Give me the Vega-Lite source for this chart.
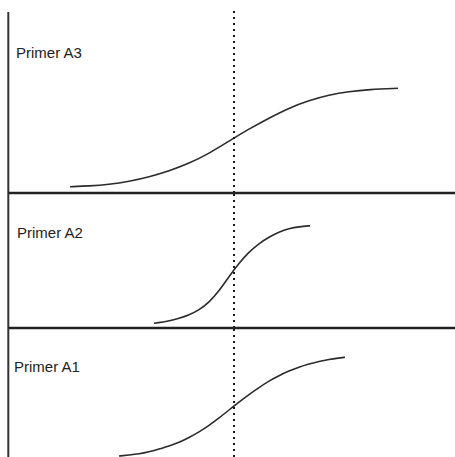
{
  "$schema": "https://vega.github.io/schema/vega-lite/v6.json",
  "description": "Amplification curves for three primers, with a common cycle marker.",
  "padding": 0,
  "spacing": 0,
  "bounds": "flush",
  "config": {
    "view": {"stroke": null},
    "text": {"font": "Liberation Sans", "fontSize": 15, "color": "#222222", "align": "left", "baseline": "alphabetic"}
  },
  "datasets": {
    "curves": [
      {"primer": "Primer A3", "cycle": 6.1, "fluor": 0.063},
      {"primer": "Primer A3", "cycle": 8, "fluor": 0.07},
      {"primer": "Primer A3", "cycle": 10, "fluor": 0.085},
      {"primer": "Primer A3", "cycle": 12, "fluor": 0.115},
      {"primer": "Primer A3", "cycle": 14, "fluor": 0.16},
      {"primer": "Primer A3", "cycle": 16, "fluor": 0.22},
      {"primer": "Primer A3", "cycle": 18, "fluor": 0.295},
      {"primer": "Primer A3", "cycle": 20, "fluor": 0.395},
      {"primer": "Primer A3", "cycle": 22, "fluor": 0.52},
      {"primer": "Primer A3", "cycle": 24, "fluor": 0.64},
      {"primer": "Primer A3", "cycle": 26, "fluor": 0.75},
      {"primer": "Primer A3", "cycle": 28, "fluor": 0.85},
      {"primer": "Primer A3", "cycle": 30, "fluor": 0.925},
      {"primer": "Primer A3", "cycle": 32, "fluor": 0.98},
      {"primer": "Primer A3", "cycle": 34, "fluor": 1.015},
      {"primer": "Primer A3", "cycle": 36, "fluor": 1.035},
      {"primer": "Primer A3", "cycle": 38.9, "fluor": 1.047},

      {"primer": "Primer A2", "cycle": 14.5, "fluor": 0.047},
      {"primer": "Primer A2", "cycle": 16, "fluor": 0.07},
      {"primer": "Primer A2", "cycle": 17, "fluor": 0.095},
      {"primer": "Primer A2", "cycle": 18, "fluor": 0.13},
      {"primer": "Primer A2", "cycle": 19, "fluor": 0.18},
      {"primer": "Primer A2", "cycle": 20, "fluor": 0.255},
      {"primer": "Primer A2", "cycle": 21, "fluor": 0.37},
      {"primer": "Primer A2", "cycle": 22, "fluor": 0.515},
      {"primer": "Primer A2", "cycle": 23, "fluor": 0.65},
      {"primer": "Primer A2", "cycle": 24, "fluor": 0.76},
      {"primer": "Primer A2", "cycle": 25, "fluor": 0.845},
      {"primer": "Primer A2", "cycle": 26, "fluor": 0.91},
      {"primer": "Primer A2", "cycle": 27, "fluor": 0.96},
      {"primer": "Primer A2", "cycle": 28, "fluor": 0.995},
      {"primer": "Primer A2", "cycle": 29, "fluor": 1.013},
      {"primer": "Primer A2", "cycle": 30.1, "fluor": 1.023},

      {"primer": "Primer A1", "cycle": 11, "fluor": 0.01},
      {"primer": "Primer A1", "cycle": 12, "fluor": 0.02},
      {"primer": "Primer A1", "cycle": 13, "fluor": 0.03},
      {"primer": "Primer A1", "cycle": 14, "fluor": 0.05},
      {"primer": "Primer A1", "cycle": 15, "fluor": 0.08},
      {"primer": "Primer A1", "cycle": 16, "fluor": 0.11},
      {"primer": "Primer A1", "cycle": 17, "fluor": 0.145},
      {"primer": "Primer A1", "cycle": 18, "fluor": 0.195},
      {"primer": "Primer A1", "cycle": 19, "fluor": 0.25},
      {"primer": "Primer A1", "cycle": 20, "fluor": 0.315},
      {"primer": "Primer A1", "cycle": 21, "fluor": 0.39},
      {"primer": "Primer A1", "cycle": 22, "fluor": 0.47},
      {"primer": "Primer A1", "cycle": 23, "fluor": 0.55},
      {"primer": "Primer A1", "cycle": 24, "fluor": 0.625},
      {"primer": "Primer A1", "cycle": 25, "fluor": 0.695},
      {"primer": "Primer A1", "cycle": 26, "fluor": 0.76},
      {"primer": "Primer A1", "cycle": 27, "fluor": 0.815},
      {"primer": "Primer A1", "cycle": 28, "fluor": 0.86},
      {"primer": "Primer A1", "cycle": 29, "fluor": 0.9},
      {"primer": "Primer A1", "cycle": 30, "fluor": 0.93},
      {"primer": "Primer A1", "cycle": 31, "fluor": 0.957},
      {"primer": "Primer A1", "cycle": 32, "fluor": 0.977},
      {"primer": "Primer A1", "cycle": 33, "fluor": 0.99},
      {"primer": "Primer A1", "cycle": 33.6, "fluor": 0.997}
    ]
  },
  "vconcat": [
    {
      "width": 455,
      "height": 193,
      "layer": [
        {
          "data": {"name": "curves"},
          "transform": [{"filter": "datum.primer === 'Primer A3'"}],
          "mark": {"type": "line", "interpolate": "basis", "stroke": "#2b2b2b", "strokeWidth": 1.6},
          "encoding": {
            "x": {"field": "cycle", "type": "quantitative", "scale": {"domain": [-0.9, 44.6], "nice": false, "zero": false}, "axis": null},
            "y": {"field": "fluor", "type": "quantitative", "scale": {"domain": [0, 1.93], "nice": false, "zero": false}, "axis": null}
          }
        },
        {
          "data": {"values": [{}]},
          "mark": {"type": "rule", "stroke": "#1a1a1a", "strokeWidth": 2, "strokeDash": [2, 4]},
          "encoding": {"x": {"datum": 22.5}, "y": {"datum": 0}, "y2": {"datum": 1.83}}
        },
        {
          "data": {"values": [{}]},
          "mark": {"type": "rule", "stroke": "#333333", "strokeWidth": 2},
          "encoding": {"x": {"datum": -0.07}, "y": {"datum": 0}, "y2": {"datum": 1.81}}
        },
        {
          "data": {"values": [{}]},
          "mark": {"type": "rule", "stroke": "#222222", "strokeWidth": 2.5},
          "encoding": {"y": {"datum": 0}, "x": {"datum": -0.1}, "x2": {"datum": 44.6}}
        },
        {
          "data": {"values": [{}]},
          "mark": {"type": "text"},
          "encoding": {"x": {"datum": 0.7}, "y": {"datum": 1.35}, "text": {"value": "Primer A3"}}
        }
      ]
    },
    {
      "width": 455,
      "height": 135,
      "layer": [
        {
          "data": {"name": "curves"},
          "transform": [{"filter": "datum.primer === 'Primer A2'"}],
          "mark": {"type": "line", "interpolate": "basis", "stroke": "#2b2b2b", "strokeWidth": 1.6},
          "encoding": {
            "x": {"field": "cycle", "type": "quantitative", "scale": {"domain": [-0.9, 44.6], "nice": false, "zero": false}, "axis": null},
            "y": {"field": "fluor", "type": "quantitative", "scale": {"domain": [0, 1.35], "nice": false, "zero": false}, "axis": null}
          }
        },
        {
          "data": {"values": [{}]},
          "mark": {"type": "rule", "stroke": "#1a1a1a", "strokeWidth": 2, "strokeDash": [2, 4]},
          "encoding": {"x": {"datum": 22.5}, "y": {"datum": 0}, "y2": {"datum": 1.35}}
        },
        {
          "data": {"values": [{}]},
          "mark": {"type": "rule", "stroke": "#333333", "strokeWidth": 2},
          "encoding": {"x": {"datum": -0.07}, "y": {"datum": 0}, "y2": {"datum": 1.35}}
        },
        {
          "data": {"values": [{}]},
          "mark": {"type": "rule", "stroke": "#222222", "strokeWidth": 2.5},
          "encoding": {"y": {"datum": 0}, "x": {"datum": -0.1}, "x2": {"datum": 44.6}}
        },
        {
          "data": {"values": [{}]},
          "mark": {"type": "text"},
          "encoding": {"x": {"datum": 0.8}, "y": {"datum": 0.9}, "text": {"value": "Primer A2"}}
        }
      ]
    },
    {
      "width": 455,
      "height": 129,
      "layer": [
        {
          "data": {"name": "curves"},
          "transform": [{"filter": "datum.primer === 'Primer A1'"}],
          "mark": {"type": "line", "interpolate": "basis", "stroke": "#2b2b2b", "strokeWidth": 1.6},
          "encoding": {
            "x": {"field": "cycle", "type": "quantitative", "scale": {"domain": [-0.9, 44.6], "nice": false, "zero": false}, "axis": null},
            "y": {"field": "fluor", "type": "quantitative", "scale": {"domain": [0, 1.29], "nice": false, "zero": false}, "axis": null}
          }
        },
        {
          "data": {"values": [{}]},
          "mark": {"type": "rule", "stroke": "#1a1a1a", "strokeWidth": 2, "strokeDash": [2, 4]},
          "encoding": {"x": {"datum": 22.5}, "y": {"datum": 0}, "y2": {"datum": 1.29}}
        },
        {
          "data": {"values": [{}]},
          "mark": {"type": "rule", "stroke": "#333333", "strokeWidth": 2},
          "encoding": {"x": {"datum": -0.07}, "y": {"datum": 0}, "y2": {"datum": 1.29}}
        },
        {
          "data": {"values": [{}]},
          "mark": {"type": "text"},
          "encoding": {"x": {"datum": 0.5}, "y": {"datum": 0.85}, "text": {"value": "Primer A1"}}
        }
      ]
    }
  ]
}
